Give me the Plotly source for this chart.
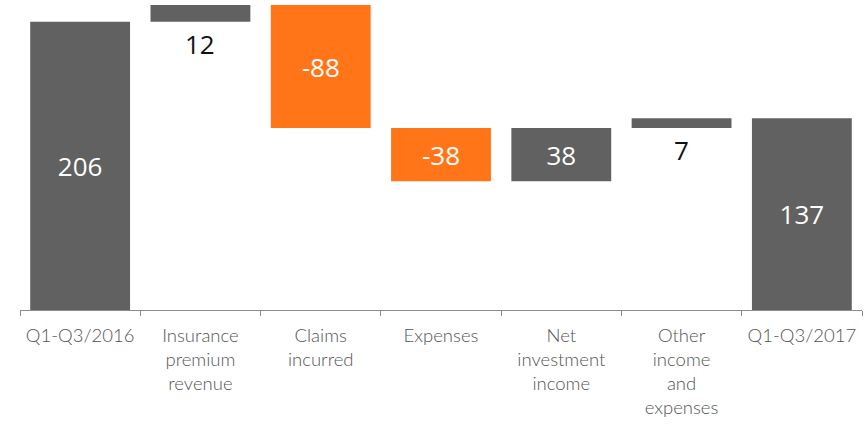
import plotly.graph_objects as go

categories = ['Q1-Q3/2016', 'Insurance<br>premium<br>revenue', 'Claims<br>incurred', 'Expenses',
              'Net<br>investment<br>income', 'Other<br>income<br>and<br>expenses', 'Q1-Q3/2017']
values = [206, 12, -88, -38, 38, 7, 137]
measures = ['absolute', 'relative', 'relative', 'relative', 'relative', 'relative', 'total']
labels = ['206', '12', '-88', '-38', '38', '7', '137']
outside_labels = [False, True, False, False, False, True, False]

GREY = '#616161'
ORANGE = '#FF7518'

# running base of each bar, used to hang the small labels under their bars
bases = []
level = 0
for v, m in zip(values, measures):
    if m == 'absolute' or m == 'total':
        bases.append(0)
        level = v if m == 'absolute' else level
    else:
        bases.append(min(level, level + v))
        level += v

fig = go.Figure(go.Waterfall(
    x=categories,
    y=values,
    measure=measures,
    text=[('' if o else t) for t, o in zip(labels, outside_labels)],
    textposition='inside',
    insidetextanchor='middle',
    textfont=dict(family='Open Sans', size=26, color='white'),
    increasing=dict(marker=dict(color=GREY)),
    decreasing=dict(marker=dict(color=ORANGE)),
    totals=dict(marker=dict(color=GREY)),
    connector=dict(visible=False),
    hoverinfo='skip',
))

for cat, base, t, o in zip(categories, bases, labels, outside_labels):
    if o:
        fig.add_annotation(x=cat, y=base, text=t, showarrow=False, yanchor='top', yshift=-2,
                           font=dict(family='Open Sans', size=26, color='#111111'))

fig.update_layout(
    width=865, height=426,
    margin=dict(l=20, r=3, t=5, b=116, autoexpand=False),
    paper_bgcolor='white', plot_bgcolor='white',
    showlegend=False,
    waterfallgap=0.17,
    xaxis=dict(
        showline=True, linecolor='#8c8c8c', linewidth=1,
        ticks='outside', tickson='boundaries', ticklen=5, tickcolor='#8c8c8c',
        tickfont=dict(family='Lato', size=18.5, color='#555555', weight=300),
        ticklabelstandoff=9,
        tickangle=0, automargin=False,
    ),
    yaxis=dict(range=[0, 218], visible=False, showgrid=False),
)

fig.write_html('out.html', config={'displayModeBar': False},
               post_script="document.body.style.margin='0px';")
